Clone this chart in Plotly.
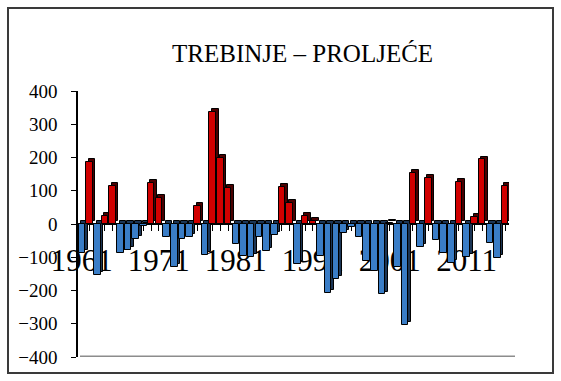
import plotly.graph_objects as go

years = list(range(1961, 2017))
values = [-88, 187, -153, 24, 114, -86, -78, -46, -5, 122,
          77, -38, -130, -45, -39, 53, -93, 337, 200, 107,
          -60, -95, -98, -38, -80, -33, 110, 64, -120, 24,
          10, -95, -208, -165, -26, -10, -40, -110, -140, -212,
          3, -130, -303, 154, -68, 137, -48, -88, -116, 127,
          -98, 22, 194, -58, -103, 114]
tick_years = [1961, 1971, 1981, 1991, 2001, 2011]
title_text = "TREBINJE – PROLJEĆE"

W, H = 561, 381
L, T, B = 78, 91, 24
PW = 431
R = W - L - PW
PH = H - T - B

front_col = ["#D10000" if v >= 0 else "#3A7DC6" for v in values]
side_col = ["#4A0000" if v >= 0 else "#1B3555" for v in values]

fig = go.Figure()
# 3D depth (side/top face) drawn behind
fig.add_trace(go.Bar(x=years, y=values, base=9, width=0.85, offset=-0.42 + 0.33,
                     marker=dict(color=side_col, line=dict(color="black", width=1)),
                     hoverinfo="skip", showlegend=False))
# front faces
fig.add_trace(go.Bar(x=years, y=values, width=0.85, offset=-0.42,
                     marker=dict(color=front_col, line=dict(color="black", width=1)),
                     showlegend=False))

font = "Liberation Serif, Times New Roman, serif"

def px_x(px):
    return (px - L) / PW

def px_y(py):
    return (H - B - py) / PH

fig.update_layout(
    width=W, height=H,
    margin=dict(l=L, r=R, t=T, b=B, pad=0),
    paper_bgcolor="white", plot_bgcolor="white",
    barmode="overlay", bargap=0,
    font=dict(family=font, color="black"),
    xaxis=dict(type="linear", range=[1960.5, 2016.5], tickvals=tick_years,
               ticktext=[str(y) for y in tick_years],
               ticks="outside", ticklen=6, tickcolor="black", tickwidth=1,
               minor=dict(dtick=1, tick0=1961, ticks="outside", ticklen=6,
                          tickcolor="black", tickwidth=1, showgrid=False),
               showline=True, linecolor="black", linewidth=2,
               anchor="free", position=0.5, layer="below traces",
               showgrid=False, zeroline=False,
               tickfont=dict(family=font, size=31, color="black"),
               ticklabelstandoff=3),
    yaxis=dict(range=[-400, 400], dtick=100, tick0=0,
               ticks="outside", ticklen=5, tickcolor="black",
               showline=True, linecolor="black", linewidth=1.5,
               showgrid=False, zeroline=False,
               tickfont=dict(family=font, size=19, color="black"),
               ticklabelstandoff=10),
    shapes=[
        dict(type="rect", xref="paper", yref="paper",
             x0=px_x(8), x1=px_x(553), y0=px_y(373), y1=px_y(8),
             line=dict(color="#3a3a3a", width=2), fillcolor="rgba(0,0,0,0)",
             layer="below"),
        dict(type="line", xref="paper", yref="y",
             x0=px_x(80), x1=px_x(515), y0=-400, y1=-400,
             line=dict(color="#8c8c8c", width=3)),
    ],
    annotations=[
        dict(text=title_text, xref="paper", yref="paper",
             x=px_x(302), y=px_y(53), xanchor="center", yanchor="middle",
             showarrow=False, font=dict(family=font, size=25, color="black")),
    ],
)

fig.write_html("out.html")
